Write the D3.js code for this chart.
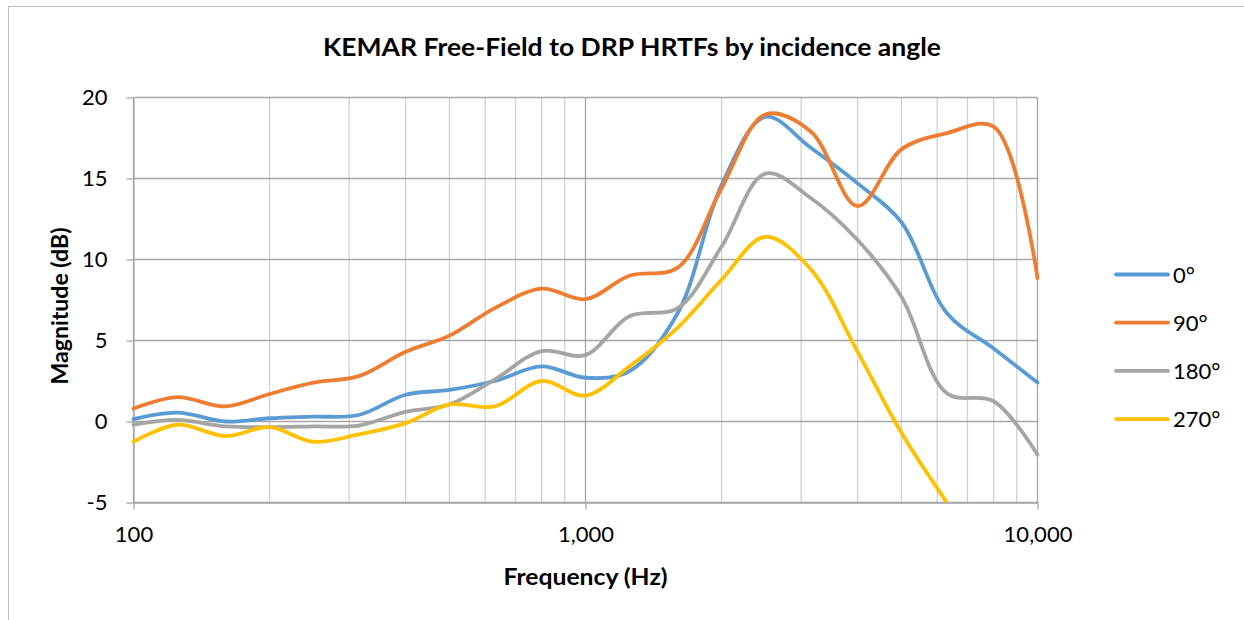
<!DOCTYPE html>
<html>
<head>
<meta charset="utf-8">
<script src="https://cdn.jsdelivr.net/npm/d3@7"></script>
<style>
body { margin: 0; background: #fff; }
svg text { font-family: Lato, "Open Sans", sans-serif; fill: #000; }
.grid-major line { stroke: #a6a6a6; stroke-width: 1.3px; }
.grid-minor line { stroke: #d0d0d0; stroke-width: 1.3px; }
.axis path, .axis line { stroke: #a6a6a6; stroke-width: 1.3px; }
.series { fill: none; stroke-width: 3.8px; stroke-linecap: round; stroke-linejoin: round; }
</style>
</head>
<body>
<svg width="1244" height="620"></svg>
<script>

// 1/3 octave band centres (Hz)
var freqs = [100, 125, 160, 200, 250, 315, 400, 500, 630, 800, 1000,
	1250, 1600, 2000, 2500, 3150, 4000, 5000, 6300, 8000, 10000];

var deg0   = [0.15, 0.55, 0.0, 0.2, 0.3, 0.4, 1.65, 1.95, 2.5, 3.4, 2.7,
	3.1, 6.7, 14.6, 18.8, 16.9, 14.7, 12.3, 6.7, 4.5, 2.4];
var deg90  = [0.8, 1.5, 0.93, 1.7, 2.4, 2.8, 4.3, 5.3, 7.0, 8.2, 7.55,
	9.0, 9.5, 14.4, 18.95, 17.9, 13.3, 16.8, 17.8, 18.2, 8.85];
var deg180 = [-0.2, 0.1, -0.3, -0.35, -0.3, -0.25, 0.6, 1.05, 2.6, 4.35, 4.1,
	6.5, 7.0, 10.8, 15.3, 13.8, 11.2, 7.7, 1.75, 1.25, -2.05];
var deg270 = [-1.25, -0.2, -0.9, -0.35, -1.25, -0.8, -0.1, 1.05, 0.93, 2.5, 1.6,
	3.4, 5.8, 8.75, 11.4, 9.4, 4.3, -0.7, -5.0];

var seriesNames = ["0°", "90°", "180°", "270°"];
var seriesColors = ["#5b9bd5", "#ed7d31", "#a5a5a5", "#ffc000"];
var seriesValues = [deg0, deg90, deg180, deg270];

var yTicks = [-5, 0, 5, 10, 15, 20];
var xMajor = [100, 1000, 10000];
var xMinor = [200, 300, 400, 500, 600, 700, 800, 900,
	2000, 3000, 4000, 5000, 6000, 7000, 8000, 9000];

var svg = d3.select("svg");

// chart frame
svg.append("rect")
	.attr("x", 8.5).attr("y", 6.5)
	.attr("width", 1260).attr("height", 640)
	.attr("fill", "none").attr("stroke", "#bfbfbf");

var x = d3.scaleLog().domain([100, 10000]).range([133.5, 1037.5]);
var y = d3.scaleLinear().domain([-5, 20]).range([502.5, 97.5]);

svg.append("g").attr("class", "grid-minor")
	.selectAll("line").data(xMinor).enter().append("line")
	.attr("x1", function(d) { return x(d); })
	.attr("x2", function(d) { return x(d); })
	.attr("y1", y(20)).attr("y2", y(-5));

svg.append("g").attr("class", "grid-major")
	.selectAll("line").data(yTicks).enter().append("line")
	.attr("x1", x(100)).attr("x2", x(10000))
	.attr("y1", function(d) { return y(d); })
	.attr("y2", function(d) { return y(d); });

svg.append("g").attr("class", "grid-major")
	.selectAll("line").data(xMajor).enter().append("line")
	.attr("x1", function(d) { return x(d); })
	.attr("x2", function(d) { return x(d); })
	.attr("y1", y(20)).attr("y2", y(-5));

// axes
var yAxis = svg.append("g").attr("class", "axis")
	.attr("transform", "translate(" + x(100) + ",0)")
	.call(d3.axisLeft(y).tickValues(yTicks)
		.tickFormat(function(d) { return String(d); })
		.tickSize(7).tickPadding(19).tickSizeOuter(0));
yAxis.selectAll("text").attr("font-size", "22px").style("font-family", "Lato, sans-serif");

var xAxis = svg.append("g").attr("class", "axis")
	.attr("transform", "translate(0," + y(-5) + ")")
	.call(d3.axisBottom(x).tickValues(xMajor).tickFormat(d3.format(",")).tickSize(7).tickPadding(17).tickSizeOuter(0));
xAxis.selectAll("text").attr("font-size", "22px").style("font-family", "Lato, sans-serif");

// series
svg.append("clipPath").attr("id", "plotclip")
	.append("rect")
	.attr("x", x(100) - 3).attr("y", y(20) - 3)
	.attr("width", x(10000) - x(100) + 6).attr("height", y(-5) - y(20) + 3);

var line = d3.line()
	.x(function(d) { return x(d[0]); })
	.y(function(d) { return y(d[1]); })
	.curve(d3.curveCatmullRom.alpha(0.5));

var plot = svg.append("g").attr("clip-path", "url(#plotclip)");
seriesValues.forEach(function(vals, i) {
	var pts = vals.map(function(v, j) { return [freqs[j], v]; });
	plot.append("path")
		.attr("class", "series")
		.attr("stroke", seriesColors[i])
		.attr("d", line(pts));
});

// titles
svg.append("text")
	.attr("x", 632).attr("y", 56)
	.attr("text-anchor", "middle")
	.attr("font-size", "25px").attr("font-weight", "bold")
	.attr("textLength", 618).attr("lengthAdjust", "spacingAndGlyphs")
	.text("KEMAR Free-Field to DRP HRTFs by incidence angle");

svg.append("text")
	.attr("x", x(1000)).attr("y", 585)
	.attr("text-anchor", "middle")
	.attr("font-size", "23px").attr("font-weight", "bold")
	.attr("textLength", 164).attr("lengthAdjust", "spacingAndGlyphs")
	.text("Frequency (Hz)");

svg.append("text")
	.attr("transform", "translate(68,306) rotate(-90)")
	.attr("text-anchor", "middle")
	.attr("font-size", "23px").attr("font-weight", "bold")
	.attr("textLength", 157).attr("lengthAdjust", "spacingAndGlyphs")
	.text("Magnitude (dB)");

// legend
var legend = svg.append("g").selectAll("g")
	.data(seriesNames).enter().append("g")
	.attr("transform", function(d, i) { return "translate(1116," + (274.5 + i * 48.2) + ")"; });

legend.append("line")
	.attr("x1", 0).attr("x2", 52)
	.attr("stroke-width", 3.8).attr("stroke-linecap", "round")
	.attr("stroke", function(d, i) { return seriesColors[i]; });

legend.append("text")
	.attr("x", 57).attr("y", 8)
	.attr("font-size", "22px")
	.text(function(d) { return d; });

</script>
</body>
</html>
